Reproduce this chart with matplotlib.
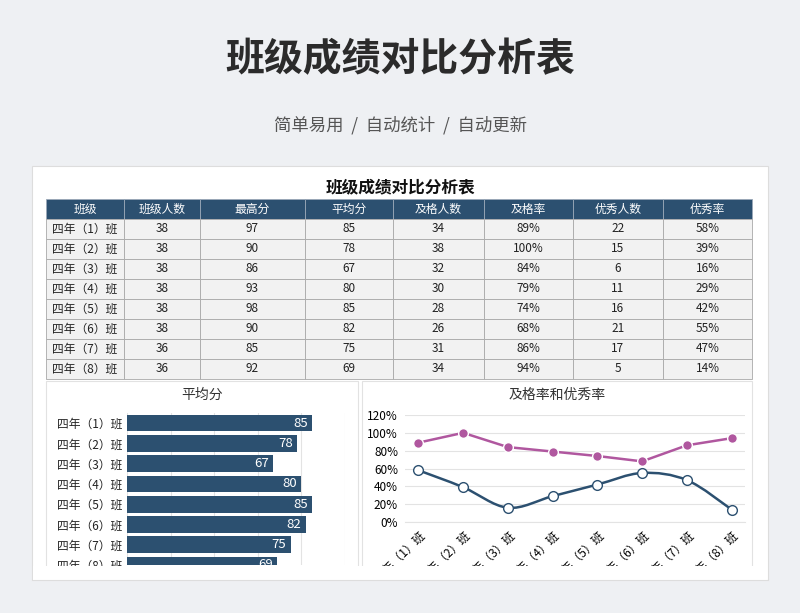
import matplotlib
matplotlib.use("Agg")
import matplotlib.pyplot as plt
from matplotlib.patches import Rectangle, PathPatch
from matplotlib.path import Path
import numpy as np

plt.rcParams["font.family"] = "Noto Sans CJK SC"

title = "班级成绩对比分析表"
subtitle = "简单易用  /  自动统计  /  自动更新"
headers = ["班级", "班级人数", "最高分", "平均分", "及格人数", "及格率", "优秀人数", "优秀率"]
classes = ["四年（1）班", "四年（2）班", "四年（3）班", "四年（4）班",
           "四年（5）班", "四年（6）班", "四年（7）班", "四年（8）班"]
class_size = [38, 38, 38, 38, 38, 38, 36, 36]
max_score = [97, 90, 86, 93, 98, 90, 85, 92]
avg_score = [85, 78, 67, 80, 85, 82, 75, 69]
pass_count = [34, 38, 32, 30, 28, 26, 31, 34]
pass_rate = [89, 100, 84, 79, 74, 68, 86, 94]
excel_count = [22, 15, 6, 11, 16, 21, 17, 5]
excel_rate = [58, 39, 16, 29, 42, 55, 47, 14]

W, H = 800, 613
fig = plt.figure(figsize=(8, 6.13), dpi=100)
fig.patch.set_facecolor("#eef0f3")

def rect(x0, y0, x1, y1):
    return [x0 / W, 1 - y1 / H, (x1 - x0) / W, (y1 - y0) / H]

bg = fig.add_axes([0, 0, 1, 1])
bg.set_xlim(0, W); bg.set_ylim(H, 0); bg.axis("off")
bg.add_patch(Rectangle((32, 166), 736, 414, facecolor="white", edgecolor="#dddddd", lw=0.8))
bg.text(400, 60, title, ha="center", va="center", fontsize=28, fontweight="bold", color="#2b2b2b")
bg.text(400, 125, subtitle, ha="center", va="center", fontsize=12.5, color="#555555")
bg.text(400, 187, title, ha="center", va="center", fontsize=12, fontweight="bold", color="#111111")

dark = "#2c5070"
xs = [46, 124, 200, 305, 393, 484, 573, 663, 752]
y0, rh = 199, 20
for j, h in enumerate(headers):
    bg.add_patch(Rectangle((xs[j], y0), xs[j+1]-xs[j], rh, facecolor=dark, edgecolor="#9aa8b8", lw=0.6))
    bg.text((xs[j]+xs[j+1])/2, y0+rh/2, h, ha="center", va="center", color="white", fontsize=8.5)
cols = [classes, class_size, max_score, avg_score, pass_count,
        [f"{v}%" for v in pass_rate], excel_count, [f"{v}%" for v in excel_rate]]
for i in range(8):
    y = y0 + rh*(i+1)
    for j in range(8):
        bg.add_patch(Rectangle((xs[j], y), xs[j+1]-xs[j], rh, facecolor="#f2f2f2", edgecolor="#a9a9a9", lw=0.6))
        bg.text((xs[j]+xs[j+1])/2, y+rh/2, str(cols[j][i]), ha="center", va="center", color="#222222", fontsize=8.5)

# panel borders
for (a, b, c, d) in [(46, 381, 358, 585), (362, 381, 752, 585)]:
    bg.add_patch(Rectangle((a, b), c-a, d-b, facecolor="none", edgecolor="#e2e2e2", lw=0.8))
bg.text(202, 395, "平均分", ha="center", va="center", fontsize=10, color="#333333")
bg.text(557, 395, "及格率和优秀率", ha="center", va="center", fontsize=10, color="#333333")

# bar chart
ax1 = fig.add_axes(rect(127, 413, 345, 565))
ypos = np.arange(8)[::-1]  # class 8 at top
ax1.barh(ypos, avg_score, height=0.82, color=dark)
for yp, v in zip(ypos, avg_score):
    ax1.text(v - 2, yp, str(v), ha="right", va="center", color="white", fontsize=9.5)
ax1.set_xlim(0, 100)
ax1.set_ylim(0.6, 7.5)
ax1.set_yticks(ypos, classes, fontsize=8.5, color="#222222")
ax1.set_xticks([0, 20, 40, 60, 80, 100])
ax1.tick_params(axis="x", length=0, labelbottom=False)
ax1.tick_params(axis="y", length=0)
ax1.grid(axis="x", color="#e3e3e3", lw=0.8)
ax1.set_axisbelow(True)
for s in ax1.spines.values():
    s.set_visible(False)

# line chart
ax2 = fig.add_axes(rect(405, 415, 745, 522))
x = np.arange(8)
pr = np.array(pass_rate) / 100
er = np.array(excel_rate) / 100
ax2.plot(x, pr, color="#b0579f", lw=1.8, marker="o", ms=7, mfc="#b0579f", mec="white", mew=1, zorder=3)
# smooth curve through data via bezier path
verts = [(x[0], er[0])]
codes = [Path.MOVETO]
t = 1/6
for i in range(7):
    p0 = (x[max(i-1, 0)], er[max(i-1, 0)]); p1 = (x[i], er[i])
    p2 = (x[i+1], er[i+1]); p3 = (x[min(i+2, 7)], er[min(i+2, 7)])
    c1 = (p1[0] + (p2[0]-p0[0])*t, p1[1] + (p2[1]-p0[1])*t)
    c2 = (p2[0] - (p3[0]-p1[0])*t, p2[1] - (p3[1]-p1[1])*t)
    verts += [c1, c2, p2]; codes += [Path.CURVE4]*3
ax2.add_patch(PathPatch(Path(verts, codes), facecolor="none", edgecolor=dark, lw=1.8, zorder=2))
ax2.plot(x, er, ls="none", marker="o", ms=7, mfc="white", mec=dark, mew=1, zorder=4)
ax2.set_ylim(0, 1.2)
ax2.set_xlim(-0.3, 7.3)
ax2.set_yticks(np.arange(0, 1.21, 0.2), [f"{int(round(v*100))}%" for v in np.arange(0, 1.21, 0.2)], fontsize=8.5)
ax2.set_xticks(x, classes, rotation=45, ha="right", rotation_mode="anchor", fontsize=8.5)
ax2.tick_params(length=0, pad=5)
ax2.grid(axis="y", color="#e3e3e3", lw=0.8)
ax2.set_axisbelow(True)
for s in ax2.spines.values():
    s.set_visible(False)
ax2.spines["bottom"].set_visible(True); ax2.spines["bottom"].set_color("#e3e3e3")

# crop bottom
top = fig.add_axes([0, 0, 1, 1], zorder=10)
top.set_xlim(0, W); top.set_ylim(H, 0); top.axis("off"); top.patch.set_alpha(0)
top.add_patch(Rectangle((33, 566), 734, 13.5, facecolor="white", edgecolor="none"))
top.add_patch(Rectangle((0, 580), W, 40, facecolor="#eef0f3", edgecolor="none"))
top.plot([32, 768], [580, 580], color="#dddddd", lw=0.8)

fig.savefig("out.png", dpi=100, facecolor=fig.get_facecolor())
